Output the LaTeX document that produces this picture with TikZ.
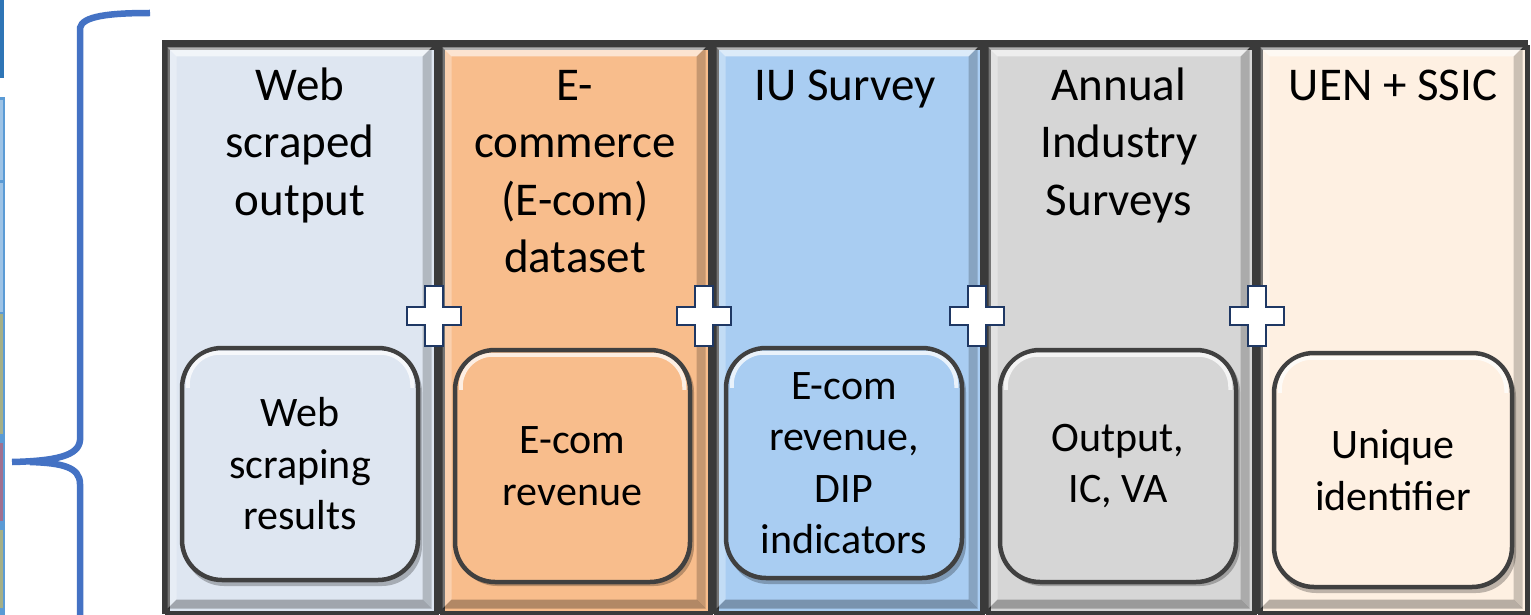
\documentclass[tikz,border=0pt]{standalone}
\usepackage{fontspec}
\setmainfont{Carlito}
\definecolor{cA}{HTML}{DEE6F1}
\definecolor{cB}{HTML}{F8BD8C}
\definecolor{cC}{HTML}{A9CDF2}
\definecolor{cD}{HTML}{D6D6D6}
\definecolor{cE}{HTML}{FEF0E2}
\definecolor{framec}{HTML}{3A3A3A}
\definecolor{boxline}{HTML}{404040}
\definecolor{bracec}{HTML}{4472C4}
\definecolor{plusline}{HTML}{1F3864}
\definecolor{stripA}{HTML}{2E75B6}
\definecolor{stripB}{HTML}{5B9BD5}
\definecolor{stripC}{HTML}{9DC3E6}
\definecolor{stripG}{HTML}{A5AF86}
\definecolor{stripP}{HTML}{A0708F}
\newcommand\ttlfont{\fontsize{47}{57.5}\selectfont}
\newcommand\inrfont{\fontsize{42}{51.5}\selectfont}
\newcommand\tstrut{\rule{0pt}{40pt}}
\begin{document}
\begin{tikzpicture}[x=1pt,y=-1pt,
  colbox/.style={draw=framec, line width=5pt, minimum height=566pt, inner sep=0pt, anchor=north west},
  ttl/.style={anchor=north, align=center, inner sep=0pt, font=\ttlfont},
  ibox/.style={draw=boxline, line width=4.5pt, rounded corners=40pt, align=center, inner sep=0pt, font=\inrfont},
  hl/.style={draw=white, opacity=.75, line width=4pt},
  plusshape/.style={fill=white, draw=plusline, line width=2.5pt, line join=miter},
  bracestyle/.style={draw=bracec, line width=6.5pt}
]
\useasboundingbox (0,0) rectangle (1531,615);
\clip (0,0) rectangle (1531,615);
\fill[white] (0,0) rectangle (1531,615);

% left strips
\fill[stripA] (0,0) rectangle (4,78);
\fill[stripB] (0,97) rectangle (5,615);
\fill[stripC] (0,100) rectangle (3,180);
\fill[stripC] (0,183) rectangle (3,312);
\fill[stripG] (0,314) rectangle (3,434);
\fill[stripP] (0,443) rectangle (3,521);
\fill[stripG] (0,530) rectangle (3,608);

% brace
\draw[bracestyle] (150,13) .. controls (110,13) and (82,16) .. (80,28) -- (80,440)
   .. controls (79,456) and (55,461) .. (12,462);
\draw[bracestyle] (30,462) .. controls (62,463) and (80,467) .. (80,484) -- (80,625);

% frame background
\fill[framec] (162,40) rectangle (1528,614);

% columns
\foreach \i/\xa/\xb/\clr in {1/165/434/cA, 2/440/708/cB, 3/714/980/cC, 4/986/1252/cD, 5/1258/1525/cE} {
  \pgfmathsetmacro\colw{\xb-\xa}
  \node[colbox, fill=\clr, minimum width=\colw pt] (c\i) at (\xa,45) {};
  \fill[white, opacity=.6] (\xa+2.5,47.5) -- (\xb-2.5,47.5) -- (\xb-11.5,56.5) -- (\xa+11.5,56.5) -- cycle;
  \fill[white, opacity=.3] (\xa+2.5,47.5) -- (\xa+11.5,56.5) -- (\xa+11.5,599.5) -- (\xa+2.5,608.5) -- cycle;
  \fill[black, opacity=.2] (\xb-2.5,47.5) -- (\xb-2.5,608.5) -- (\xb-11.5,599.5) -- (\xb-11.5,56.5) -- cycle;
  \fill[black, opacity=.28] (\xa+2.5,608.5) -- (\xb-2.5,608.5) -- (\xb-11.5,599.5) -- (\xa+11.5,599.5) -- cycle;
}

% titles
\node[ttl] (t1) at (300,60) {\tstrut Web\\scraped\\output};
\node[ttl] (t2) at (575,60) {\tstrut E-\\commerce\\(E-com)\\dataset};
\node[ttl] (t3) at (845,60) {\tstrut IU Survey};
\node[ttl] (t4) at (1119,60) {\tstrut Annual\\Industry\\Surveys};
\node[ttl] (t5) at (1393,60) {\tstrut UEN + SSIC};

% shadows of inner boxes
\foreach \cx/\cy/\w/\h in {300/464/236/232, 572.5/464/235/232, 844/463/236/230, 1118/464/236/232, 1393/470/238/234} {
  \fill[black, opacity=.25, rounded corners=40pt] (\cx-\w/2+2,\cy-\h/2+4) rectangle (\cx+\w/2+4,\cy+\h/2+6);
}

% inner boxes
\node[ibox, fill=cA, minimum width=236pt, minimum height=232pt] (b1) at (300,464) {Web\\scraping\\results};
\node[ibox, fill=cB, minimum width=235pt, minimum height=232pt] (b2) at (572.5,466) {E-com\\revenue};
\node[ibox, fill=cC, minimum width=236pt, minimum height=230pt] (b3) at (844,463) {E-com\\revenue,\\DIP\\indicators};
\node[ibox, fill=cD, minimum width=236pt, minimum height=232pt] (b4) at (1118,466) {Output,\\IC, VA};
\node[ibox, fill=cE, minimum width=238pt, minimum height=234pt] (b5) at (1393,470) {Unique\\identifier};

\foreach \b in {b1,b2,b3,b4,b5} {
  \draw[hl] ([shift={(8,42)}]\b.north west) [rounded corners=32pt] |- ([shift={(-8,7)}]\b.north east) -- ([shift={(-8,42)}]\b.north east);
}

% plus signs
\foreach \cx in {434,704,977,1257} {
  \def\cy{316}
  \draw[plusshape] (\cx-9,\cy-30) -- (\cx+9,\cy-30) -- (\cx+9,\cy-9) -- (\cx+27,\cy-9) -- (\cx+27,\cy+9)
     -- (\cx+9,\cy+9) -- (\cx+9,\cy+30) -- (\cx-9,\cy+30) -- (\cx-9,\cy+9) -- (\cx-27,\cy+9)
     -- (\cx-27,\cy-9) -- (\cx-9,\cy-9) -- cycle;
}
\end{tikzpicture}
\end{document}
